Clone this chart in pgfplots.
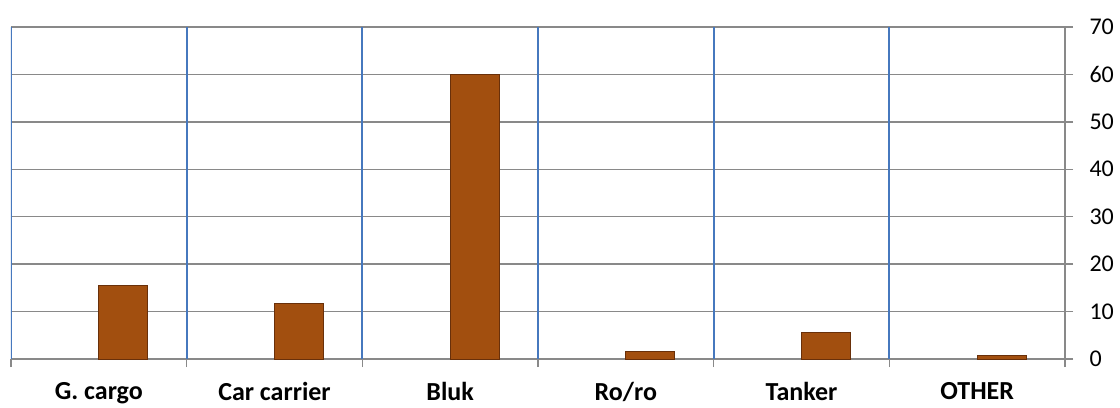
\documentclass[border=0pt]{standalone}
\usepackage{pgfplots}
\pgfplotsset{compat=1.18}
\usepackage{fontspec}
\setmainfont{Carlito}
\definecolor{axisgray}{RGB}{137,137,137}
\definecolor{gridblue}{RGB}{70,120,190}
\definecolor{barfill}{RGB}{162,79,15}
\definecolor{bardraw}{RGB}{105,48,10}
\begin{document}
\begin{tikzpicture}
\begin{axis}[
  scale only axis, width=1054pt, height=332pt,
  xmin=-0.5, xmax=5.5, ymin=0, ymax=70,
  axis x line*=bottom, axis y line*=right,
  axis line style={draw=axisgray, line width=1.4pt, -},
  xtick={-0.5,0.5,1.5,2.5,3.5,4.5,5.5},
  xticklabels={{},{},{},{},{},{},{}},
  extra x ticks={0,1,2,3,4,5},
  extra x tick labels={G. cargo, Car carrier, Bluk, Ro/ro, Tanker, OTHER},
  extra x tick style={major tick length=0pt,
    tick label style={font=\bfseries\fontsize{26}{26}\selectfont, yshift=-20pt}},
  ytick={0,10,...,70},
  yticklabel style={font=\fontsize{24}{24}\selectfont, xshift=13pt},
  /pgf/number format/assume math mode=true,
  tick align=outside, major tick length=8pt,
  major tick style={draw=axisgray, line width=1.4pt},
  ymajorgrids,
  y grid style={draw=axisgray, line width=1.4pt},
  ybar, bar width=49pt, bar shift=24.5pt,
]
\pgfplotsinvokeforeach{-0.5,0.5,1.5,2.5,3.5,4.5}{
  \draw[gridblue, line width=2pt] (axis cs:#1,0) -- (axis cs:#1,70);
}
\addplot[fill=barfill, draw=bardraw, line width=1pt] coordinates {
  (0,15.6) (1,11.7) (2,60) (3,1.5) (4,5.6) (5,0.7)
};
\coordinate (sw) at (rel axis cs:0,0);
\coordinate (ne) at (rel axis cs:1,1);
\end{axis}
\pgfresetboundingbox
\path[use as bounding box] ([xshift=-11pt,yshift=-48pt]sw) rectangle ([xshift=55pt,yshift=27pt]ne);
\end{tikzpicture}
\end{document}
